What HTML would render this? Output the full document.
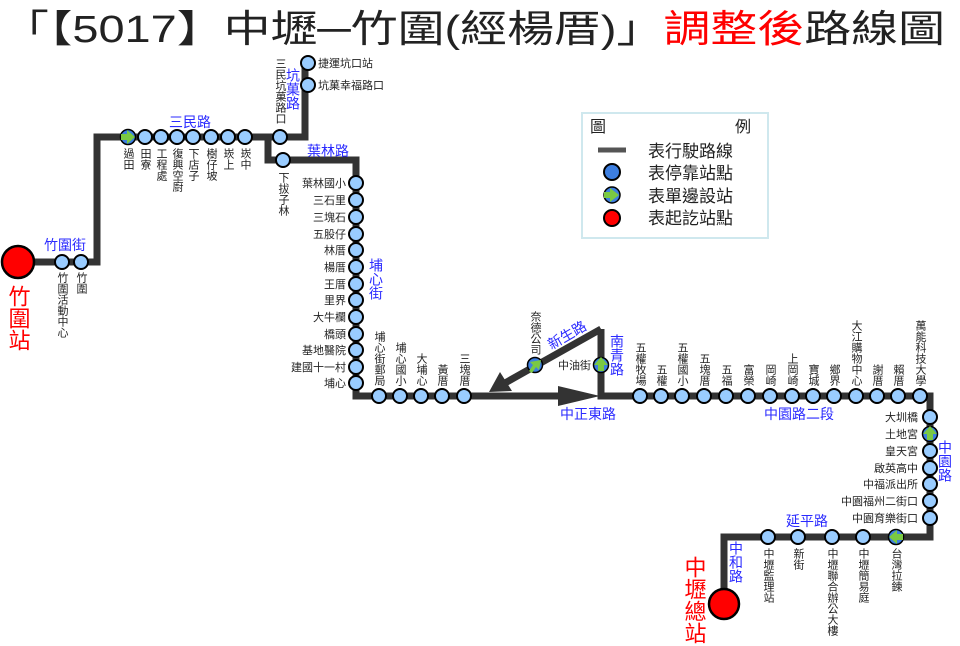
<!DOCTYPE html>
<html><head><meta charset="utf-8"><style>
html,body{margin:0;padding:0;background:#fff}
svg{display:block}
text{font-family:"Liberation Sans","Noto Sans CJK TC",sans-serif}
.s{fill:#222;font-size:11px}
.v{writing-mode:vertical-rl;fill:#222;font-size:11px}
.r{fill:#2a2aff;font-size:14px}
.rv{writing-mode:vertical-rl;fill:#2a2aff;font-size:14px}
</style></head><body>
<svg width="960" height="646" viewBox="0 0 960 646" xmlns="http://www.w3.org/2000/svg">
<text x="2" y="42" font-size="38" textLength="943" lengthAdjust="spacingAndGlyphs" fill="#222">「【5017】中壢─竹圍(經楊厝)」<tspan fill="#f00">調整後</tspan>路線圖</text>

<g fill="none" stroke="#333" stroke-width="7" stroke-linejoin="miter">
<polyline points="18,262 97,262 97,137 305,137 305,63"/>
<polyline points="268,137 268,160 356,160 356,396 560,396"/>
<polyline points="601,329 601,396 930,396 930,537 724,537 724,604"/>
<line x1="601" y1="329" x2="505" y2="383"/>
</g>
<polygon points="558,386 600,396 558,406" fill="#333"/>
<polygon points="489,392 500,372 512,391" fill="#333"/>

<g fill="#99ccff" stroke="#000" stroke-width="2">
<circle cx="62" cy="262" r="7"/><circle cx="81" cy="262" r="7"/>
<circle cx="145" cy="137" r="7"/><circle cx="161" cy="137" r="7"/><circle cx="177" cy="137" r="7"/><circle cx="193" cy="137" r="7"/><circle cx="211" cy="137" r="7"/><circle cx="228" cy="137" r="7"/><circle cx="245" cy="137" r="7"/><circle cx="280" cy="137" r="7"/>
<circle cx="308" cy="63" r="7"/><circle cx="308" cy="85" r="7"/><circle cx="283" cy="160" r="7"/>
<circle cx="356" cy="183" r="7"/><circle cx="356" cy="200" r="7"/><circle cx="356" cy="217" r="7"/><circle cx="356" cy="234" r="7"/><circle cx="356" cy="250" r="7"/><circle cx="356" cy="267" r="7"/><circle cx="356" cy="284" r="7"/><circle cx="356" cy="300" r="7"/><circle cx="356" cy="317" r="7"/><circle cx="356" cy="334" r="7"/><circle cx="356" cy="350" r="7"/><circle cx="356" cy="367" r="7"/><circle cx="356" cy="383" r="7"/>
<circle cx="379" cy="396" r="7"/><circle cx="400" cy="396" r="7"/><circle cx="421" cy="396" r="7"/><circle cx="442" cy="396" r="7"/><circle cx="464" cy="396" r="7"/>
<circle cx="640" cy="396" r="7"/><circle cx="661" cy="396" r="7"/><circle cx="682" cy="396" r="7"/><circle cx="704" cy="396" r="7"/><circle cx="726" cy="396" r="7"/><circle cx="748" cy="396" r="7"/><circle cx="770" cy="396" r="7"/><circle cx="792" cy="396" r="7"/><circle cx="813" cy="396" r="7"/><circle cx="834" cy="396" r="7"/><circle cx="856" cy="396" r="7"/><circle cx="877" cy="396" r="7"/><circle cx="898" cy="396" r="7"/><circle cx="920" cy="396" r="7"/>
<circle cx="930" cy="417" r="7"/><circle cx="930" cy="451" r="7"/><circle cx="930" cy="468" r="7"/><circle cx="930" cy="484" r="7"/><circle cx="930" cy="501" r="7"/><circle cx="930" cy="518" r="7"/>
<circle cx="863" cy="537" r="7"/><circle cx="832" cy="537" r="7"/><circle cx="798" cy="537" r="7"/><circle cx="768" cy="537" r="7"/>
</g>
<g fill="#3d7fe0" stroke="#000" stroke-width="1.5">
<circle cx="128" cy="137" r="7.5"/><circle cx="535" cy="365" r="7.5"/><circle cx="601" cy="365" r="7.5"/><circle cx="930" cy="434" r="7.5"/><circle cx="896" cy="537" r="7.5"/>
</g>
<g fill="#7ac943">
<polygon points="121,134 127,134 127,130 135,137 127,144 127,140 121,140"/>
<polygon points="598,371 598,365 594,365 601,357 608,365 604,365 604,371"/>
<polygon points="927,440 927,434 923,434 930,426 937,434 933,434 933,440"/>
<polygon points="903,534 897,534 897,530 889,537 897,544 897,540 903,540"/>
<polygon points="529,371 533,365 530,362 541,360 539,370 536,367 532,373"/>
</g>
<circle cx="18" cy="262" r="16" fill="#f00" stroke="#000" stroke-width="2.5"/>
<circle cx="724" cy="604" r="15" fill="#f00" stroke="#000" stroke-width="2.5"/>

<text class="v" x="62" y="272">竹圍活動中心</text>
<text class="v" x="81" y="272">竹圍</text>
<text class="v" x="128" y="148">過田</text><text class="v" x="145" y="148">田寮</text><text class="v" x="161" y="148">工程處</text><text class="v" x="177" y="148">復興空廚</text><text class="v" x="193" y="148">下店子</text><text class="v" x="211" y="148">樹仔坡</text><text class="v" x="228" y="148">崁上</text><text class="v" x="245" y="148">崁中</text>
<text class="v" x="280" y="58">三民坑菓路口</text>
<text class="v" x="283" y="172">下拔子林</text>
<text class="s" x="318" y="67">捷運坑口站</text><text class="s" x="318" y="89">坑菓幸福路口</text>
<g class="s" text-anchor="end">
<text x="346" y="187">葉林國小</text><text x="346" y="204">三石里</text><text x="346" y="221">三塊石</text><text x="346" y="238">五股仔</text><text x="346" y="254">林厝</text><text x="346" y="271">楊厝</text><text x="346" y="288">王厝</text><text x="346" y="304">里界</text><text x="346" y="321">大牛欄</text><text x="346" y="338">橋頭</text><text x="346" y="354">基地醫院</text><text x="346" y="371">建國十一村</text><text x="346" y="387">埔心</text>
<text x="591" y="369">中油街</text>
<text x="918" y="421">大圳橋</text><text x="918" y="438">土地宮</text><text x="918" y="455">皇天宮</text><text x="918" y="472">啟英高中</text><text x="918" y="488">中福派出所</text><text x="918" y="505">中園福州二街口</text><text x="918" y="522">中園育樂街口</text>
</g>
<g class="v" text-anchor="end">
<text x="379" y="386">埔心街郵局</text><text x="400" y="386">埔心國小</text><text x="421" y="386">大埔心</text><text x="442" y="386">黃厝</text><text x="464" y="386">三塊厝</text>
<text x="535" y="355">奈德公司</text>
<text x="640" y="386">五權牧場</text><text x="661" y="386">五權</text><text x="682" y="386">五權國小</text><text x="704" y="386">五塊厝</text><text x="726" y="386">五福</text><text x="748" y="386">富榮</text><text x="770" y="386">岡崎</text><text x="792" y="386">上岡崎</text><text x="813" y="386">寶城</text><text x="834" y="386">鄉界</text><text x="856" y="386">大江購物中心</text><text x="877" y="386">謝厝</text><text x="898" y="386">賴厝</text><text x="920" y="386">萬能科技大學</text>
</g>
<text class="v" x="896" y="548">台灣拉鍊</text><text class="v" x="863" y="548">中壢簡易庭</text><text class="v" x="832" y="548">中壢聯合辦公大樓</text><text class="v" x="798" y="548">新街</text><text class="v" x="768" y="548">中壢監理站</text>

<text class="r" x="44" y="250">竹圍街</text>
<text class="r" x="169" y="127">三民路</text>
<text class="rv" x="293" y="68">坑菓路</text>
<text class="r" x="307" y="156">葉林路</text>
<text class="rv" x="376" y="258">埔心街</text>
<text class="r" x="546" y="340" transform="rotate(-30 567 335)">新生路</text>
<text class="rv" x="617" y="334">南青路</text>
<text class="r" x="560" y="419">中正東路</text>
<text class="r" x="764" y="419">中園路二段</text>
<text class="rv" x="945" y="440">中園路</text>
<text class="r" x="786" y="526">延平路</text>
<text class="rv" x="736" y="541">中和路</text>
<text x="18" y="285" font-size="22" fill="#f00" style="writing-mode:vertical-rl">竹圍站</text>
<text x="694" y="556" font-size="22" fill="#f00" style="writing-mode:vertical-rl">中壢總站</text>

<rect x="582" y="113" width="186" height="125" fill="none" stroke="#cfe8ee" stroke-width="2"/>
<text x="590" y="132" font-size="16" fill="#222">圖</text><text x="735" y="132" font-size="16" fill="#222">例</text>
<line x1="598" y1="150" x2="626" y2="150" stroke="#555" stroke-width="5"/>
<circle cx="612" cy="172" r="8" fill="#3d7fe0" stroke="#000" stroke-width="2"/>
<circle cx="612" cy="195" r="8" fill="#3d7fe0" stroke="#000" stroke-width="1.5"/>
<polygon points="604,192 610,192 610,188 619,195 610,202 610,198 604,198" fill="#7ac943"/>
<circle cx="612" cy="218" r="8" fill="#f00" stroke="#000" stroke-width="2"/>
<g font-size="17" fill="#222"><text x="648" y="157">表行駛路線</text><text x="648" y="179">表停靠站點</text><text x="648" y="202">表單邊設站</text><text x="648" y="224">表起訖站點</text></g>
</svg>
</body></html>
